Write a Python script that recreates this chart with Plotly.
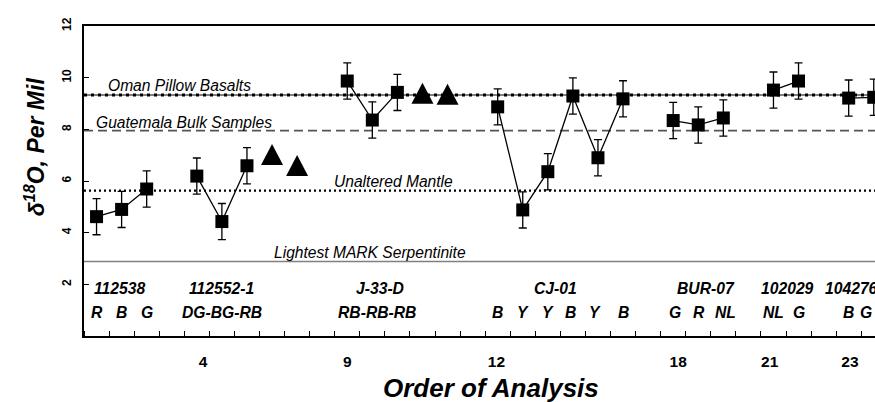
import plotly.graph_objects as go

# ---- data: delta-18O (per mil) by order of analysis ----------------------
group_names = ["112538", "112552-1", "J-33-D", "CJ-01", "BUR-07", "102029", "104276"]

order_112538 = [0, 1, 2]
d18o_112538 = [4.62, 4.90, 5.69]

order_112552 = [4, 5, 6]
d18o_112552 = [6.19, 4.43, 6.59]

order_j33d = [10, 11, 12]
d18o_j33d = [9.87, 8.36, 9.43]

order_cj01 = [16, 17, 18, 19, 20, 21]
d18o_cj01 = [8.87, 4.88, 6.36, 9.29, 6.90, 9.18]

order_bur07 = [23, 24, 25]
d18o_bur07 = [8.34, 8.17, 8.44]

order_102029 = [27, 28]
d18o_102029 = [9.52, 9.87]

order_104276 = [30, 31]
d18o_104276 = [9.21, 9.24]

analytical_error = 0.7

# bulk-rock analyses (triangles)
order_bulk = [7, 8, 13, 14]
d18o_bulk = [7.03, 6.60, 9.40, 9.36]

# reference values
ref_names = ["Oman Pillow Basalts", "Guatemala Bulk Samples", "Unaltered Mantle",
             "Lightest MARK Serpentinite"]
ref_values = [9.33, 7.95, 5.63, 2.88]

# group and colour-code labels drawn inside the plot
group_label_pos = [0.92, 5.0, 11.3, 18.3, 24.3, 27.56, 30.13]
code_label_pos = [0, 1, 2, 5.0, 11.2, 16, 17, 18, 18.9, 19.9, 21,
                  23.07, 24.03, 25.07, 27.0, 28, 30, 30.7]
code_label_text = ["R", "B", "G", "DG-BG-RB", "RB-RB-RB", "B", "Y", "Y", "B", "Y", "B",
                   "G", "R", "NL", "NL", "G", "B", "G"]

# x tick labels (analysis number)
xtick_pos = [4.25, 10, 15.95, 23.2, 26.85, 30.05]
xtick_text = ["4", "9", "12", "18", "21", "23"]
ytick_vals = [2, 4, 6, 8, 10, 12]

FONT = "Arial, Liberation Sans, sans-serif"

groups = [
    (order_112538, d18o_112538),
    (order_112552, d18o_112552),
    (order_j33d, d18o_j33d),
    (order_cj01, d18o_cj01),
    (order_bur07, d18o_bur07),
    (order_102029, d18o_102029),
    (order_104276, d18o_104276),
]

fig = go.Figure()

# reference lines
ref_styles = [
    [dict(color="black", width=1.2, dash="solid"), dict(color="black", width=3, dash="3px,4px")],
    [dict(color="#555555", width=1.6, dash="9px,5px")],
    [dict(color="black", width=2.2, dash="2px,3px")],
    [dict(color="#808080", width=1.5, dash="solid")],
]
shapes = []
for val, styles in zip(ref_values, ref_styles):
    for st in styles:
        shapes.append(dict(type="line", xref="paper", yref="y", x0=0, x1=1,
                           y0=val, y1=val, line=st, layer="below"))

# triangles for bulk analyses, anchored on data values
for xv, yv in zip(order_bulk, d18o_bulk):
    shapes.append(dict(type="path", xref="x", yref="y",
                       xsizemode="pixel", ysizemode="pixel",
                       xanchor=xv, yanchor=yv,
                       path="M -11,-10.5 L 11,-10.5 L 0,10.5 Z",
                       fillcolor="black", line=dict(width=0)))

for name, (xs, ys) in zip(group_names, groups):
    fig.add_trace(go.Scatter(
        x=xs, y=ys, name=name, mode="lines+markers",
        line=dict(color="black", width=1.3),
        marker=dict(symbol="square", size=13, color="black"),
        error_y=dict(type="constant", value=analytical_error, color="black",
                     thickness=1.3, width=4),
        showlegend=False,
    ))

annotations = []
# reference line labels
ref_label_x = [0.38, -0.1, 9.39, 7.0]
ref_label_y = [9.68, 8.28, 6.0, 3.22]
for name, xv, yv in zip(ref_names, ref_label_x, ref_label_y):
    annotations.append(dict(x=xv, y=yv, xref="x", yref="y", text=name,
                            showarrow=False, xanchor="left", yanchor="middle",
                            font=dict(family=FONT, size=15.6, color="black", style="italic")))

for name, xv in zip(group_names, group_label_pos):
    annotations.append(dict(x=xv, y=1.82, xref="x", yref="y", text=name,
                            showarrow=False, xanchor="center", yanchor="middle",
                            font=dict(family=FONT, size=15.7, color="black",
                                      style="italic", weight="bold")))
for txt, xv in zip(code_label_text, code_label_pos):
    annotations.append(dict(x=xv, y=0.91, xref="x", yref="y", text=txt,
                            showarrow=False, xanchor="center", yanchor="middle",
                            font=dict(family=FONT, size=15.7, color="black",
                                      style="italic", weight="bold")))

# axis titles
annotations.append(dict(x=-0.062, y=0.612, xref="paper", yref="paper",
                        text="δ<sup>18</sup>O, Per Mil", textangle=-90,
                        showarrow=False, xanchor="center", yanchor="middle",
                        font=dict(family=FONT, size=23, color="black",
                                  style="italic", weight="bold")))
annotations.append(dict(x=0.515, y=-0.168, xref="paper", yref="paper",
                        text="Order of Analysis",
                        showarrow=False, xanchor="center", yanchor="middle",
                        font=dict(family=FONT, size=26, color="black",
                                  style="italic", weight="bold")))

fig.update_layout(
    width=875, height=402,
    margin=dict(l=84, r=0, t=26, b=66, pad=0),
    paper_bgcolor="white", plot_bgcolor="white",
    shapes=shapes, annotations=annotations,
    font=dict(family=FONT, color="black"),
)

fig.update_xaxes(
    range=[-0.5, 31.05], showgrid=False, zeroline=False,
    showline=True, linecolor="black", linewidth=2, mirror=True,
    tickmode="array", tickvals=xtick_pos, ticktext=xtick_text,
    ticks="", ticklabelstandoff=10,
    tickfont=dict(family=FONT, size=15.5, color="black", weight="bold"),
    minor=dict(ticks="inside", ticklen=5, tickwidth=1, tickcolor="black",
               tick0=0.5, dtick=1),
)
fig.update_yaxes(
    range=[0, 12], showgrid=False, zeroline=False,
    showline=True, linecolor="black", linewidth=2, mirror=False,
    tickmode="array", tickvals=ytick_vals,
    ticks="inside", ticklen=5, tickwidth=1, tickcolor="black",
    tickangle=-90, ticklabelstandoff=6,
    tickfont=dict(family=FONT, size=12, color="black", weight="bold"),
)

fig.write_html("out.html")
